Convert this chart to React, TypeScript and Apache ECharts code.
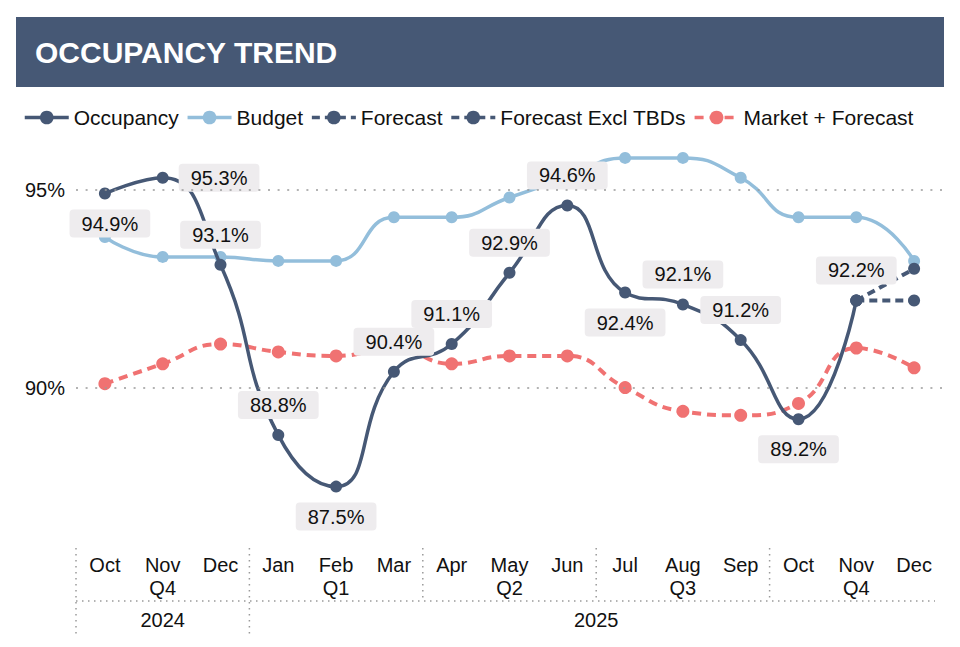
import React, { useEffect, useRef } from "react";
import * as echarts from "echarts";

const months = ["Oct", "Nov", "Dec", "Jan", "Feb", "Mar", "Apr", "May", "Jun", "Jul", "Aug", "Sep", "Oct", "Nov", "Dec"];
const quarters = ["Q4", "Q1", "Q2", "Q3", "Q4"];
const quarterSpan = [3, 3, 3, 3, 3];
const years = ["2024", "2025"];
const yearSpan = [3, 12];
const yTicks = [90, 95];

const occupancy = [94.9, 95.3, 93.1, 88.8, 87.5, 90.4, 91.1, 92.9, 94.6, 92.4, 92.1, 91.2, 89.2, 92.2, null];
const budget = [93.8, 93.3, 93.3, 93.2, 93.2, 94.3, 94.3, 94.8, 95.3, 95.8, 95.8, 95.3, 94.3, 94.3, 93.2];
const forecast = [null, null, null, null, null, null, null, null, null, null, null, null, null, 92.2, 93.0];
const forecastExcl = [null, null, null, null, null, null, null, null, null, null, null, null, null, 92.2, 92.2];
const market = [90.1, 90.6, 91.1, 90.9, 90.8, 91.0, 90.6, 90.8, 90.8, 90.0, 89.4, 89.3, 89.6, 91.0, 90.5];

const occupancyLabelPos = ["bottom", "right", "top", "top", "bottom", "top", "top", "top", "top", "bottom", "top", "top", "bottom", "top", "top"];

const FONT = "'Liberation Sans', Arial, sans-serif";
const DARK = "#465875";
const LIGHT = "#93BEDB";
const RED = "#F07272";
const DOT = "#9a9a9a";

export default function App() {
  const ref = useRef<HTMLDivElement>(null);
  useEffect(() => {
    if (!ref.current) return;
    const chart = echarts.init(ref.current, undefined, { renderer: "svg" });
    const option: any = {
      animation: false,
      backgroundColor: "#ffffff",
      textStyle: { fontFamily: FONT },
      legend: {
        left: 18,
        top: 102,
        itemWidth: 44,
        itemHeight: 17,
        itemGap: 7,
        lineStyle: { width: 3.5 },
        textStyle: { fontSize: 21, color: "#111", fontFamily: FONT },
        data: ["Occupancy", "Budget", "Forecast", "Forecast Excl TBDs", "Market + Forecast"],
      },
      grid: { left: 76, right: 17, top: 150, height: 396, containLabel: false },
      xAxis: {
        type: "category",
        data: months,
        boundaryGap: true,
        axisLine: { show: false },
        axisTick: { show: false },
        axisLabel: { interval: 0, fontSize: 20, color: "#111", margin: 9, fontFamily: FONT },
      },
      yAxis: {
        type: "value",
        min: 86,
        max: 96,
        interval: 1,
        axisLine: { show: false },
        axisTick: { show: false },
        splitLine: { show: false },
        axisLabel: {
          fontSize: 20,
          color: "#111",
          margin: 11,
          fontFamily: FONT,
          formatter: (v: number) => (yTicks.indexOf(v) >= 0 ? v + "%" : ""),
        },
      },
      series: [
        {
          name: "Occupancy",
          type: "line",
          smooth: true,
          z: 4,
          symbol: "circle",
          symbolSize: 12,
          lineStyle: { color: DARK, width: 3.5 },
          itemStyle: { color: DARK },
          label: {
            show: true,
            fontSize: 20,
            color: "#111",
            fontFamily: FONT,
            backgroundColor: "#EEECEE",
            padding: [4, 12],
            borderRadius: 4,
            distance: 10,
            formatter: (p: any) => (p.value == null ? "" : Number(p.value).toFixed(1) + "%"),
          },
          data: occupancy.map((v, i) =>
            v == null
              ? null
              : { value: v, label: { position: occupancyLabelPos[i], offset: i === 0 ? [5, 0] : [0, 0] } }
          ),
          markLine: {
            silent: true,
            symbol: "none",
            label: { show: false },
            lineStyle: { color: DOT, type: [2, 7.6], width: 1.5 },
            data: yTicks.map((t) => ({ yAxis: t })),
          },
        },
        {
          name: "Budget",
          type: "line",
          smooth: true,
          z: 3,
          symbol: "circle",
          symbolSize: 12,
          lineStyle: { color: LIGHT, width: 3.5 },
          itemStyle: { color: LIGHT },
          data: budget,
        },
        {
          name: "Forecast",
          type: "line",
          z: 3,
          symbol: "circle",
          symbolSize: 12,
          lineStyle: { color: DARK, width: 4, type: [8, 5] },
          itemStyle: { color: DARK },
          data: forecast,
        },
        {
          name: "Forecast Excl TBDs",
          type: "line",
          z: 3,
          symbol: "circle",
          symbolSize: 12,
          lineStyle: { color: DARK, width: 4, type: [8, 5] },
          itemStyle: { color: DARK },
          data: forecastExcl,
        },
        {
          name: "Market + Forecast",
          type: "line",
          smooth: true,
          z: 2,
          symbol: "circle",
          symbolSize: 13,
          lineStyle: { color: RED, width: 4, type: [9, 6] },
          itemStyle: { color: RED },
          data: market,
        },
      ],
    };
    chart.setOption(option);

    const xAt = (i: number) => chart.convertToPixel({ xAxisIndex: 0 }, i) as number;
    const band = xAt(1) - xAt(0);
    const bound = (i: number) => xAt(0) - band / 2 + band * i;
    const yBase = chart.convertToPixel({ yAxisIndex: 0 }, 86) as number;
    const sepTop = yBase + 2;
    const midY = yBase + 55;
    const bottomY = yBase + 89;
    const dotted = { stroke: DOT, lineWidth: 1.5, lineDash: [1.5, 4.5] };

    const g: any[] = [
      { type: "rect", shape: { x: 16, y: 17, width: 928, height: 70 }, style: { fill: "#465875" } },
      {
        type: "text",
        x: 35,
        y: 52,
        style: { text: "OCCUPANCY TREND", fill: "#fff", font: `bold 30px ${FONT}`, textVerticalAlign: "middle" },
      },
    ];
    let acc = 0;
    quarters.forEach((q, k) => {
      const start = acc;
      const end = acc + quarterSpan[k];
      g.push({ type: "line", shape: { x1: bound(start), y1: sepTop, x2: bound(start), y2: midY - 1 }, style: dotted });
      g.push({
        type: "text",
        x: (bound(start) + bound(end)) / 2,
        y: yBase + 42,
        style: { text: q, fill: "#111", font: `20px ${FONT}`, textAlign: "center", textVerticalAlign: "middle" },
      });
      acc = end;
    });
    g.push({ type: "line", shape: { x1: bound(0), y1: midY, x2: bound(months.length) - 8, y2: midY }, style: dotted });
    acc = 0;
    years.forEach((yv, k) => {
      const start = acc;
      const end = acc + yearSpan[k];
      g.push({ type: "line", shape: { x1: bound(start), y1: midY + 1, x2: bound(start), y2: bottomY }, style: dotted });
      g.push({
        type: "text",
        x: (bound(start) + bound(end)) / 2,
        y: yBase + 74,
        style: { text: yv, fill: "#111", font: `20px ${FONT}`, textAlign: "center", textVerticalAlign: "middle" },
      });
      acc = end;
    });
    chart.setOption({ graphic: g });

    return () => chart.dispose();
  }, []);
  return <div ref={ref} style={{ position: "fixed", left: 0, top: 0, width: 960, height: 647 }} />;
}
